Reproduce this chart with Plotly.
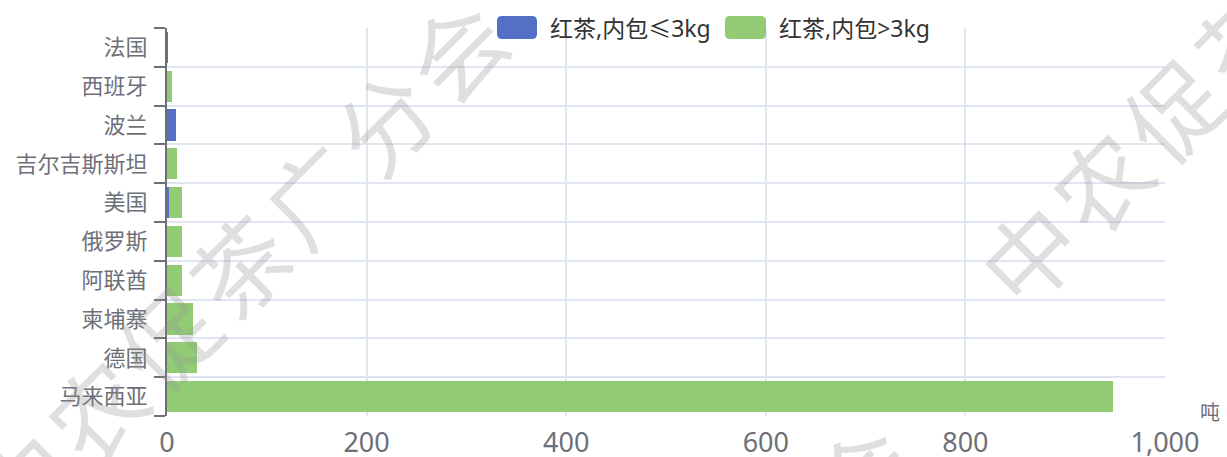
import plotly.graph_objects as go

# 国家 (从下到上)
countries = ["马来西亚", "德国", "柬埔寨", "阿联酋", "俄罗斯", "美国", "吉尔吉斯斯坦", "波兰", "西班牙", "法国"]
small_pack = [0, 0, 0, 0, 0, 1.5, 0, 9.5, 0, 0.5]          # 红茶,内包≤3kg
large_pack = [948, 30.5, 26.5, 15.5, 15, 13.5, 10, 0, 5.5, 0]  # 红茶,内包>3kg
series_names = ["红茶,内包≤3kg", "红茶,内包>3kg"]
colors = ["#5470c6", "#91cc75"]
x_ticks = [0, 200, 400, 600, 800, 1000]
unit = "吨"
watermark = "中农促茶广分会"

FONT = "Noto Sans, Noto Sans CJK SC, sans-serif"

# plot area in pixels
L, R, T, B = 167, 1165, 28, 416
W, H = 1227, 457


def px(x):
    return (x - L) / (R - L)


def py(y):
    return (B - y) / (B - T)


def rounded_rect(x0, y0, x1, y1, r):
    # path in paper coords from pixel box
    X = lambda v: f"{px(v):.5f}"
    Y = lambda v: f"{py(v):.5f}"
    return (f"M {X(x0 + r)},{Y(y0)} L {X(x1 - r)},{Y(y0)} Q {X(x1)},{Y(y0)} {X(x1)},{Y(y0 + r)} "
            f"L {X(x1)},{Y(y1 - r)} Q {X(x1)},{Y(y1)} {X(x1 - r)},{Y(y1)} "
            f"L {X(x0 + r)},{Y(y1)} Q {X(x0)},{Y(y1)} {X(x0)},{Y(y1 - r)} "
            f"L {X(x0)},{Y(y0 + r)} Q {X(x0)},{Y(y0)} {X(x0 + r)},{Y(y0)} Z")


fig = go.Figure()
fig.add_trace(go.Bar(y=countries, x=small_pack, name=series_names[0], orientation="h",
                     marker=dict(color=colors[0], line_width=0)))
fig.add_trace(go.Bar(y=countries, x=large_pack, name=series_names[1], orientation="h",
                     marker=dict(color=colors[1], line_width=0)))

fig.update_layout(
    width=W, height=H,
    margin=dict(l=L, r=W - R, t=T, b=H - B),
    barmode="stack", bargap=0.2,
    showlegend=False,
    plot_bgcolor="white", paper_bgcolor="white",
    font=dict(family=FONT, color="#6e7079"),
)

fig.update_xaxes(
    range=[0, 1000], tickvals=x_ticks, tickformat=",",
    showgrid=True, gridcolor="#e0e6f1", gridwidth=1.5,
    zeroline=False, showline=False, ticks="", automargin=False,
    tickfont=dict(size=27, color="#6e7079"), ticklabelstandoff=8,
)
fig.update_yaxes(
    type="category", categoryorder="array", categoryarray=countries,
    tickson="boundaries", ticks="outside", ticklen=11, tickwidth=2, tickcolor="#6e7079",
    showline=True, linecolor="#6e7079", linewidth=2, automargin=False,
    showgrid=True, gridcolor="#e0e6f1", gridwidth=1.5,
    tickfont=dict(size=22, color="#6e7079"), ticklabelstandoff=13,
)

# legend (custom, ECharts style)
shapes = []
annotations = []
legend_items = [(497, 537, 548), (725, 766, 777)]
for (sx0, sx1, tx), name, col in zip(legend_items, series_names, colors):
    shapes.append(dict(type="path", xref="paper", yref="paper",
                       path=rounded_rect(sx0, 16, sx1, 39, 5),
                       fillcolor=col, line_width=0))
    annotations.append(dict(xref="paper", yref="paper", x=0, y=0,
                            xshift=tx - L, yshift=B - 28,
                            xanchor="left", yanchor="middle", showarrow=False,
                            text=name, font=dict(size=23, color="#333333")))

# axis unit
annotations.append(dict(xref="paper", yref="paper", x=0, y=0,
                        xshift=1210 - L, yshift=B - 412,
                        xanchor="center", yanchor="middle", showarrow=False,
                        text=unit, font=dict(size=20, color="#6e7079")))

# watermark: three diagonal copies
step = 72
wm_starts = [(22, 480), (1027, 252), (860 - 6 * step, 472 + 6 * step)]
for sx, sy in wm_starts:
    for i, ch in enumerate(watermark):
        cx, cy = sx + i * step, sy - i * step
        if -70 < cx < W + 70 and -70 < cy < H + 70:
            annotations.append(dict(xref="paper", yref="paper", x=0, y=0,
                                    xshift=cx - L, yshift=B - cy,
                                    xanchor="center", yanchor="middle", showarrow=False,
                                    text=ch, textangle=-45,
                                    font=dict(size=94, color="rgba(150,150,150,0.3)",
                                              family="Noto Sans CJK SC")))

fig.update_layout(shapes=shapes, annotations=annotations)

fig.write_html("out.html", config={"displayModeBar": False},
               post_script="document.body.style.margin='0';")
